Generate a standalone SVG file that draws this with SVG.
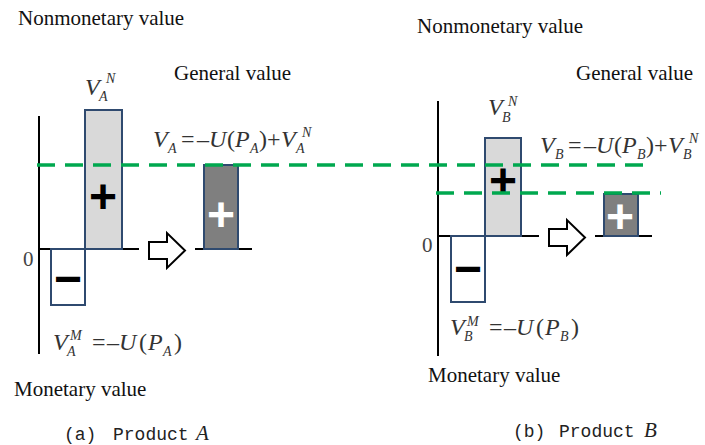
<svg xmlns="http://www.w3.org/2000/svg" width="705" height="445" viewBox="0 0 705 445">
<style>
.lbl{font-family:"Liberation Serif","Times New Roman",serif;font-size:21px;fill:#111}
.m{font-family:"Liberation Serif","Times New Roman",serif;font-size:24px;fill:#333}
.i{font-style:italic}
.s{font-size:14px;font-style:italic}
.zero{font-family:"Liberation Serif","Times New Roman",serif;font-size:21px;fill:#444}
.cap{font-family:"Liberation Mono","Courier New",monospace;font-size:18px;fill:#222}
.capi{font-family:"Liberation Serif","Times New Roman",serif;font-size:21px;font-style:italic}
.ax{stroke:#000;stroke-width:2;fill:none}
.light{fill:#d9d9d9;stroke:#2f4a6f;stroke-width:2}
.neg{fill:#fff;stroke:#2f4a6f;stroke-width:2}
.dark{fill:#7f7f7f;stroke:#2f4a6f;stroke-width:2}
.sign{font-family:"Liberation Sans",Arial,sans-serif;font-weight:bold;font-size:48px;text-anchor:middle}
.dash{stroke:#00a84f;stroke-width:3.5;stroke-dasharray:18 10;fill:none}
.arrow{fill:#fff;stroke:#000;stroke-width:2;stroke-linejoin:miter}
</style>

<!-- Panel A -->
<g id="panelA">
  <g id="a-labels">
    <text class="lbl" x="18" y="25">Nonmonetary value</text>
    <text class="lbl" x="174" y="80">General value</text>
    <text class="lbl" x="14" y="396">Monetary value</text>
    <text class="zero" x="23" y="266">0</text>
  </g>
  <g id="a-axes">
    <line class="ax" x1="39" y1="116" x2="39" y2="354"/>
    <line class="ax" x1="39" y1="249" x2="139" y2="249"/>
    <line class="ax" x1="195" y1="249" x2="252" y2="249"/>
  </g>
  <g id="a-nonmonetary">
    <rect class="light" x="85" y="110" width="37" height="139"/>
    <text class="sign" x="103" y="213" fill="#000">+</text>
    <text class="m"><tspan class="i" x="85" y="95">V</tspan><tspan class="s" x="99" y="101">A</tspan><tspan class="s" x="106" y="83">N</tspan></text>
  </g>
  <g id="a-monetary">
    <rect class="neg" x="51" y="249" width="34" height="56"/>
    <text class="sign" x="68" y="295" fill="#000">−</text>
    <text class="m"><tspan class="i" x="53" y="350">V</tspan><tspan class="s" x="67" y="356">A</tspan><tspan class="s" x="70" y="340">M</tspan><tspan x="92" y="350">=</tspan><tspan x="107" y="350">–</tspan><tspan class="i" x="119" y="350">U</tspan><tspan x="139" y="350">(</tspan><tspan class="i" x="148" y="350">P</tspan><tspan class="s" x="163" y="356">A</tspan><tspan x="174" y="350">)</tspan></text>
  </g>
  <g id="a-arrow">
    <polygon class="arrow" points="149,242 167,242 167,233 185,250.5 167,268 167,259 149,259"/>
  </g>
  <g id="a-general">
    <rect class="dark" x="204" y="165" width="34" height="84"/>
    <text class="sign" x="221" y="231" fill="#fff">+</text>
    <text class="m"><tspan class="i" x="153" y="147">V</tspan><tspan class="s" x="168" y="153">A</tspan><tspan x="181" y="147">=</tspan><tspan x="197" y="147">–</tspan><tspan class="i" x="209" y="147">U</tspan><tspan x="227" y="147">(</tspan><tspan class="i" x="235" y="147">P</tspan><tspan class="s" x="250" y="153">A</tspan><tspan x="259" y="147">)</tspan><tspan x="267" y="147">+</tspan><tspan class="i" x="281" y="147">V</tspan><tspan class="s" x="296" y="153">A</tspan><tspan class="s" x="302" y="137">N</tspan></text>
  </g>
  <g id="a-caption">
    <text class="cap"><tspan x="64" y="440">(a)</tspan><tspan x="113" y="440">Product</tspan><tspan class="capi" x="196" y="440">A</tspan></text>
  </g>
</g>

<!-- Panel B -->
<g id="panelB">
  <g id="b-labels">
    <text class="lbl" x="417" y="33">Nonmonetary value</text>
    <text class="lbl" x="576" y="80">General value</text>
    <text class="lbl" x="428" y="382">Monetary value</text>
    <text class="zero" x="422" y="252">0</text>
  </g>
  <g id="b-axes">
    <line class="ax" x1="438" y1="101" x2="438" y2="356"/>
    <line class="ax" x1="438" y1="236" x2="539" y2="236"/>
    <line class="ax" x1="595" y1="236" x2="652" y2="236"/>
  </g>
  <g id="b-nonmonetary">
    <rect class="light" x="485" y="138" width="36" height="98"/>
    <text class="sign" x="503" y="197" fill="#000">+</text>
    <text class="m"><tspan class="i" x="488" y="115">V</tspan><tspan class="s" x="502" y="122">B</tspan><tspan class="s" x="508" y="106">N</tspan></text>
  </g>
  <g id="b-monetary">
    <rect class="neg" x="451" y="236" width="34" height="66"/>
    <text class="sign" x="468" y="285" fill="#000">−</text>
    <text class="m"><tspan class="i" x="450" y="335">V</tspan><tspan class="s" x="464" y="341">B</tspan><tspan class="s" x="467" y="326">M</tspan><tspan x="489" y="335">=</tspan><tspan x="504" y="335">–</tspan><tspan class="i" x="516" y="335">U</tspan><tspan x="536" y="335">(</tspan><tspan class="i" x="545" y="335">P</tspan><tspan class="s" x="560" y="341">B</tspan><tspan x="571" y="335">)</tspan></text>
  </g>
  <g id="b-arrow">
    <polygon class="arrow" points="549,229 567,229 567,220 585,237.5 567,255 567,246 549,246"/>
  </g>
  <g id="b-general">
    <rect class="dark" x="604" y="194" width="34" height="42"/>
    <text class="sign" x="620" y="233" fill="#fff">+</text>
    <text class="m"><tspan class="i" x="540" y="153">V</tspan><tspan class="s" x="555" y="159">B</tspan><tspan x="568" y="153">=</tspan><tspan x="584" y="153">–</tspan><tspan class="i" x="596" y="153">U</tspan><tspan x="614" y="153">(</tspan><tspan class="i" x="622" y="153">P</tspan><tspan class="s" x="637" y="159">B</tspan><tspan x="646" y="153">)</tspan><tspan x="654" y="153">+</tspan><tspan class="i" x="668" y="153">V</tspan><tspan class="s" x="683" y="159">B</tspan><tspan class="s" x="689" y="143">N</tspan></text>
  </g>
  <g id="b-caption">
    <text class="cap"><tspan x="513" y="437">(b)</tspan><tspan x="559" y="437">Product</tspan><tspan class="capi" x="644" y="437">B</tspan></text>
  </g>
</g>

<g id="connectors">
  <line class="dash" x1="37" y1="165" x2="653" y2="165"/>
  <line class="dash" x1="436" y1="193" x2="661" y2="193"/>
</g>
</svg>
